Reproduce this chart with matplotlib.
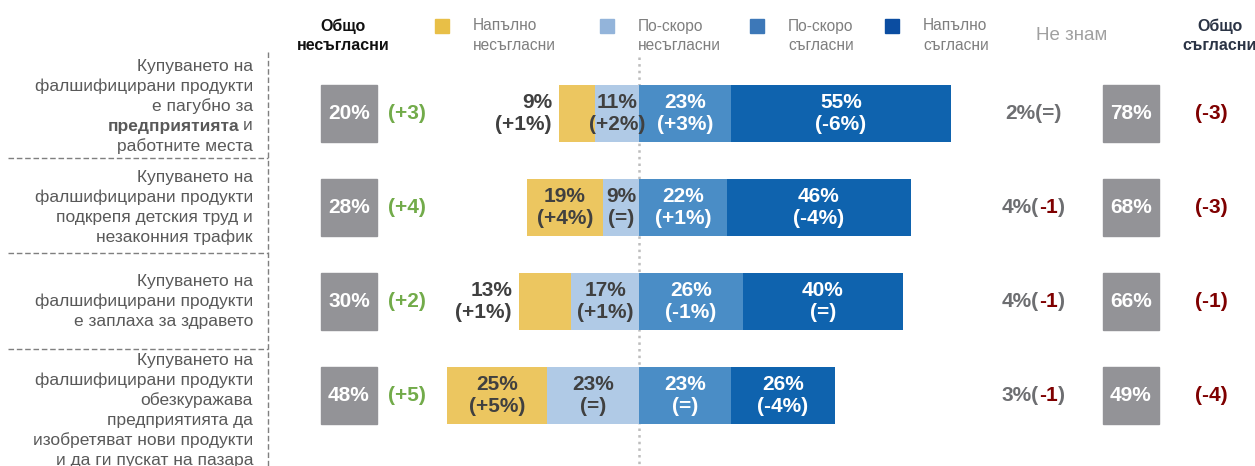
import matplotlib
matplotlib.use('Agg')
import matplotlib.pyplot as plt
from matplotlib.patches import Rectangle

plt.rcParams['font.family'] = ['Liberation Sans', 'DejaVu Sans']

# данни
labels = [
    ["Купуването на", "фалшифицирани продукти", "е пагубно за", "**предприятията и", "работните места"],
    ["Купуването на", "фалшифицирани продукти", "подкрепя детския труд и", "незаконния трафик"],
    ["Купуването на", "фалшифицирани продукти", "е заплаха за здравето"],
    ["Купуването на", "фалшифицирани продукти", "обезкуражава", "предприятията да",
     "изобретяват нови продукти", "и да ги пускат на пазара"],
]
strongly_dis = [9, 19, 13, 25]
rather_dis = [11, 9, 17, 23]
rather_agr = [23, 22, 26, 23]
strongly_agr = [55, 46, 40, 26]
chg_sd = ['+1%', '+4%', '+1%', '+5%']
chg_rd = ['+2%', '=', '+1%', '=']
chg_ra = ['+3%', '+1%', '-1%', '=']
chg_sa = ['-6%', '-4%', '=', '-4%']
dont_know = [2, 4, 4, 3]
dk_chg = ['=', '-1', '-1', '-1']
tot_dis_chg = ['+3', '+4', '+2', '+5']
tot_agr_chg = ['-3', '-3', '-1', '-4']

tot_dis = [a + b for a, b in zip(strongly_dis, rather_dis)]
tot_agr = [a + b for a, b in zip(rather_agr, strongly_agr)]

W, H = 1255, 466
fig = plt.figure(figsize=(W / 100, H / 100), dpi=100)
lay = fig.add_axes([0, 0, 1, 1])
lay.set_xlim(0, W)
lay.set_ylim(H, 0)
lay.axis('off')
ax = fig.add_axes([0, 0, 1, 1])
ax.set_xlim(-639 / 4, (W - 639) / 4)
ax.set_ylim(H, 0)
ax.axis('off')
ax.patch.set_alpha(0)

renderer = fig.canvas.get_renderer()

grey_txt = '#6D6E71'
dark_red = '#7F0000'
green = '#72AB4A'
box_grey = '#939397'
c_sd, c_rd, c_ra, c_sa = '#ECC660', '#B0CAE6', '#4A8DC6', '#0F63AE'
fs = 15      # числа
fs_lab = 12.5  # етикети вляво
fs_head = 11.5
ls_bar = 1.25


def parts_text(x, y, parts, size, ha='center'):
    # текст от няколко парчета с различни цветове
    items = []
    for s, c in parts:
        t = lay.text(0, y, s, color=c, fontsize=size, fontweight='bold', va='center', ha='left')
        items.append((t, t.get_window_extent(renderer).width))
    total = sum(w for _, w in items)
    start = x - total / 2 if ha == 'center' else x - total
    for t, w in items:
        t.set_x(start)
        start += w


row_y = [113.5 + 94 * i for i in range(4)]
bar_h = 57

# централна линия
ax.plot([0, 0], [57, H], ls=':', color='#BDBDBD', lw=1.8, zorder=0)

left_sd = [-(a + b) for a, b in zip(strongly_dis, rather_dis)]
left_rd = [-b for b in rather_dis]
ax.barh(row_y, strongly_dis, left=left_sd, height=bar_h, color=c_sd, zorder=2)
ax.barh(row_y, rather_dis, left=left_rd, height=bar_h, color=c_rd, zorder=2)
ax.barh(row_y, rather_agr, left=0, height=bar_h, color=c_ra, zorder=2)
ax.barh(row_y, strongly_agr, left=rather_agr, height=bar_h, color=c_sa, zorder=2)

for i, y in enumerate(row_y):
    # напълно несъгласни
    if strongly_dis[i] < 15:
        ax.text(left_sd[i] - 1.75, y, f"{strongly_dis[i]}%\n({chg_sd[i]})", ha='right', va='center',
                fontsize=fs, fontweight='bold', color='#404040', zorder=3, linespacing=ls_bar)
    else:
        ax.text(left_sd[i] + strongly_dis[i] / 2, y, f"{strongly_dis[i]}%\n({chg_sd[i]})", ha='center',
                va='center', fontsize=fs, fontweight='bold', color='#404040', zorder=3, linespacing=ls_bar)
    ax.text(left_rd[i] + rather_dis[i] / 2, y, f"{rather_dis[i]}%\n({chg_rd[i]})", ha='center', va='center',
            fontsize=fs, fontweight='bold', color='#404040', zorder=3, linespacing=ls_bar)
    ax.text(rather_agr[i] / 2, y, f"{rather_agr[i]}%\n({chg_ra[i]})", ha='center', va='center',
            fontsize=fs, fontweight='bold', color='white', zorder=3, linespacing=ls_bar)
    ax.text(rather_agr[i] + strongly_agr[i] / 2, y, f"{strongly_agr[i]}%\n({chg_sa[i]})", ha='center',
            va='center', fontsize=fs, fontweight='bold', color='white', zorder=3, linespacing=ls_bar)

    # общо несъгласни
    lay.add_patch(Rectangle((321, y - bar_h / 2), 56, bar_h, color=box_grey))
    lay.text(349, y, f"{tot_dis[i]}%", ha='center', va='center', fontsize=fs, fontweight='bold', color='white')
    lay.text(407, y, f"({tot_dis_chg[i]})", ha='center', va='center', fontsize=fs, fontweight='bold', color=green)

    # не знам
    if dk_chg[i] == '=':
        parts_text(1033, y, [(f"{dont_know[i]}%(=)", grey_txt)], fs)
    else:
        parts_text(1033, y, [(f"{dont_know[i]}%(", grey_txt), (dk_chg[i], dark_red), (")", grey_txt)], fs)

    # общо съгласни
    lay.add_patch(Rectangle((1103, y - bar_h / 2), 56, bar_h, color=box_grey))
    lay.text(1131, y, f"{tot_agr[i]}%", ha='center', va='center', fontsize=fs, fontweight='bold', color='white')
    lay.text(1211, y, f"({tot_agr_chg[i]})", ha='center', va='center', fontsize=fs, fontweight='bold', color=dark_red)

# етикети вляво
offsets = [-7.5, 0, 0, 15]
for i, lines in enumerate(labels):
    n = len(lines)
    y0 = row_y[i] + offsets[i] - (n - 1) * 10
    for k, line in enumerate(lines):
        yy = y0 + 20 * k
        if line.startswith('**'):
            word, rest = line[2:].split(' ')
            t = lay.text(253, yy, rest, ha='right', va='center', fontsize=fs_lab, color='#595959')
            w = t.get_window_extent(renderer).width
            lay.text(253 - w - 4, yy, word, ha='right', va='center', fontsize=fs_lab,
                     fontweight='bold', color='#595959')
        else:
            lay.text(253, yy, line, ha='right', va='center', fontsize=fs_lab, color='#595959')

# пунктирни разделители
for yy in [158, 253, 349]:
    lay.plot([8, 268], [yy, yy], ls=(0, (4, 2)), color='#7F7F7F', lw=1)
lay.plot([268, 268], [52, H], ls=(0, (4, 2)), color='#7F7F7F', lw=1)

# заглавен ред / легенда
lay.text(343, 26, "Общо", ha='center', va='center', fontsize=fs_head, fontweight='bold', color='#111111')
lay.text(343, 45, "несъгласни", ha='center', va='center', fontsize=fs_head, fontweight='bold', color='#111111')
legend = [(435, '#E8BF47', "Напълно", "несъгласни"),
          (600, '#93B4DA', "По-скоро", "несъгласни"),
          (750, '#3D78B8', "По-скоро", "съгласни"),
          (885, '#0B4DA1', "Напълно", "съгласни")]
for x, col, l1, l2 in legend:
    lay.add_patch(Rectangle((x, 19), 13.5, 13.5, color=col))
    lay.text(x + 38, 26, l1, ha='left', va='center', fontsize=11.2, color='#7F7F7F')
    lay.text(x + 38, 45, l2, ha='left', va='center', fontsize=11.2, color='#7F7F7F')
lay.text(1072, 36, "Не знам", ha='center', va='center', fontsize=13.5, color='#A0A0A0')
lay.text(1220, 26, "Общо", ha='center', va='center', fontsize=fs_head, fontweight='bold', color='#2B3445')
lay.text(1220, 45, "съгласни", ha='center', va='center', fontsize=fs_head, fontweight='bold', color='#2B3445')

fig.savefig('out.png', dpi=100)
